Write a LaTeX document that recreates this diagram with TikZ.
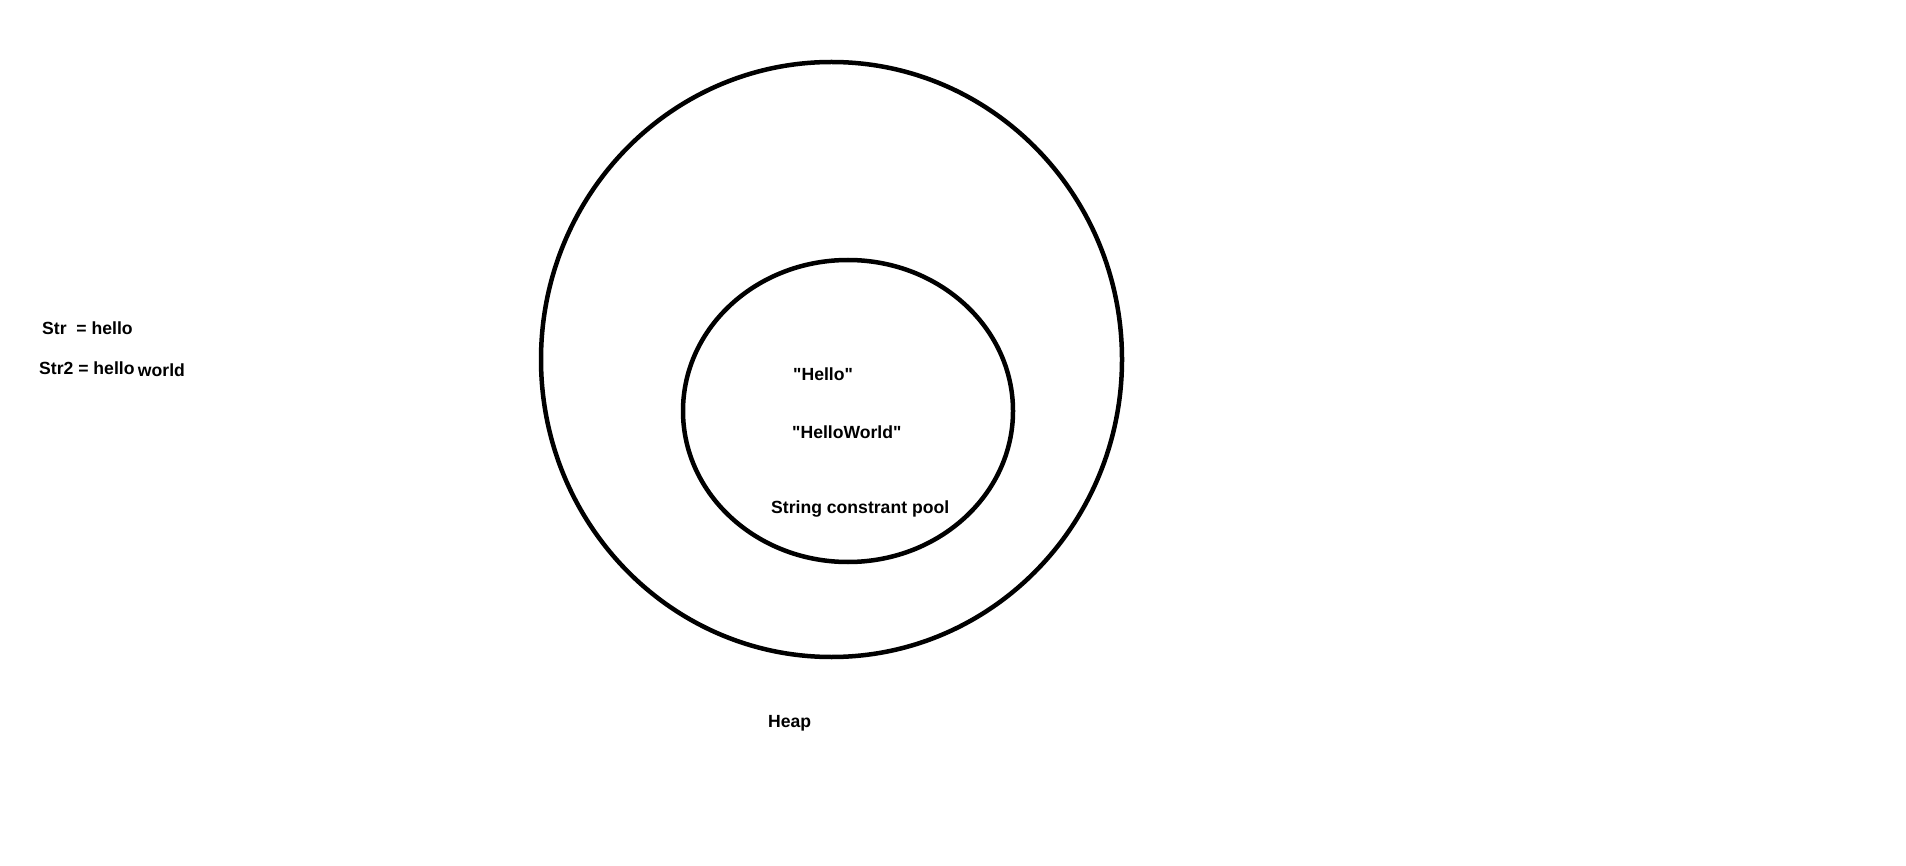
\documentclass[tikz,border=0pt]{standalone}
\usepackage{fontspec}
\setmainfont{Liberation Sans}
\begin{document}
\begin{tikzpicture}[x=1pt,y=-1pt,lbl/.style={anchor=base west,inner sep=0pt,font=\fontsize{17.6}{18}\selectfont\bfseries}]
	\useasboundingbox (0,0) rectangle (1906,866);
	\draw[line width=4.5pt] (831.5,359.5) ellipse [x radius=290.5,y radius=297.5];
	\draw[line width=4.5pt] (848,411) ellipse [x radius=165,y radius=151];
	\foreach \x/\y/\nm/\gt in {42/335/str/Str\ \ = hello,39/374/strtwo/Str2 = hello,793/381/hello/\textquotedbl Hello\textquotedbl,792/438/hw/\textquotedbl HelloWorld\textquotedbl,771/513/pool/String constrant pool,768/727/heap/Heap}\path (\x,\y) node[lbl](\nm){\gt};
	\node[lbl] (world) at ([xshift=3pt,yshift=-3pt]strtwo.base east) {world};
\end{tikzpicture}
\end{document}
